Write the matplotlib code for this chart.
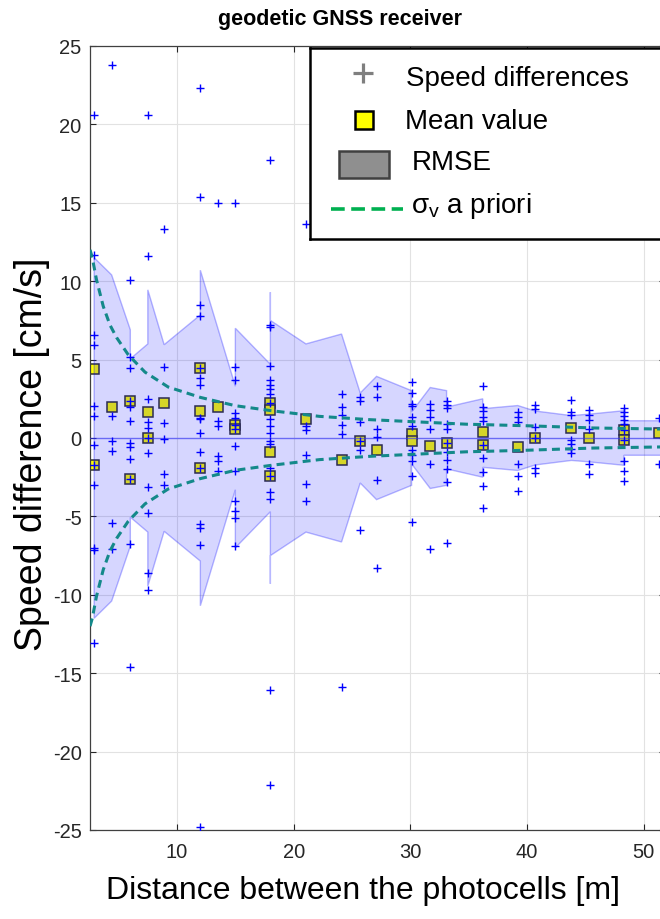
import matplotlib

matplotlib.use("Agg")
import matplotlib.pyplot as plt
import numpy as np
from matplotlib.patches import Rectangle

# ---- data ----
# distance columns (m) and the speed differences measured there (cm/s)
COLUMN_X = [2.9, 4.4, 6.0, 7.5, 8.9, 12.0, 13.5, 15.0, 18.0, 21.05, 24.1, 25.7,
            27.1, 30.1, 31.7, 33.1, 36.2, 39.2, 40.7, 43.8, 45.3, 48.3, 51.3]
COLUMN_VALUES = [
    [20.6, 11.7, 6.6, 5.9, 2.05, 1.4, -0.45, -1.72, -3.0, -7.0, -7.15, -13.1],
    [23.8, 1.42, -0.2, -0.8, -5.4, -7.1],
    [10.1, 5.15, 4.45, 2.38, 1.96, 1.1, -0.3, -0.6, -1.35, -2.6, -6.75, -14.6],
    [20.6, 11.6, 2.5, 1.05, 0.62, 0.0, -0.96, -3.1, -4.8, -8.6, -9.7],
    [13.3, 4.55, 0.94, -0.08, -2.3, -3.0],
    [22.3, 15.4, 8.5, 7.8, 4.45, 3.8, 3.35, 1.3, 1.2, 0.3, -0.87, -1.9, -5.5,
     -5.75, -6.8, -24.8],
    [15.0, 1.1, 0.78, -1.13, -1.45, -2.08],
    [15.0, 4.55, 3.7, 1.6, 1.3, 0.83, 0.55, -0.5, -2.1, -4.0, -4.65, -5.1, -6.9],
    [17.75, 7.2, 7.05, 4.6, 3.7, 3.4, 3.1, 2.8, 2.23, 1.2, 0.78, 0.32, -0.17,
     -0.4, -1.9, -2.4, -3.45, -3.9, -16.05, -22.1],
    [13.65, 0.78, 0.5, -1.1, -2.93, -4.0],
    [2.8, 2.0, 1.45, 0.85, 0.25, -15.9],
    [2.6, 2.38, 1.0, -0.17, -0.75, -5.85],
    [3.34, 2.6, 0.57, 0.04, -2.66, -8.3],
    [3.57, 2.86, 2.15, 2.02, 1.32, 0.77, -0.75, -1.1, -1.45, -2.4, -5.36],
    [2.15, 1.8, 1.32, 0.55, -1.66, -7.05],
    [2.38, 2.08, 1.9, 0.87, 0.6, -0.3, -0.9, -1.4, -1.95, -2.8, -6.7],
    [3.32, 2.0, 1.72, 1.37, 1.1, -0.43, -1.3, -2.2, -3.04, -4.46],
    [1.64, 1.32, 1.0, -1.66, -2.4, -3.36],
    [2.08, 1.82, 0.7, 0.0, -1.9, -2.23],
    [2.4, 1.68, 1.45, -0.1, -0.4, -0.68, -0.98],
    [1.76, 1.45, 1.15, 0.57, -1.68, -2.28],
    [1.92, 1.67, 1.4, 1.13, 0.87, 0.49, -0.15, -1.47, -2.13, -2.76],
    [1.3, -1.66],
]

MEAN_X = [2.9, 2.9, 4.4, 6.0, 6.0, 7.5, 7.5, 8.9, 12.0, 12.0, 12.0, 13.5, 15.0,
          15.0, 18.0, 18.0, 18.0, 18.0, 21.05, 24.1, 25.7, 27.1, 30.1, 30.1,
          31.7, 33.1, 36.2, 36.2, 39.2, 40.7, 43.8, 45.3, 48.3, 48.3, 51.3]
MEAN_Y = [4.4, -1.72, 1.96, 2.38, -2.6, 1.64, 0.0, 2.23, 4.44, 1.7, -1.9, 2.0,
          0.83, 0.55, 2.23, 1.8, -0.87, -2.4, 1.21, -1.4, -0.17, -0.74, 0.25,
          -0.17, -0.5, -0.3, 0.36, -0.43, -0.55, 0.02, 0.64, 0.02, 0.49, -0.15,
          0.3]

# RMSE envelope (drawn symmetric around zero), in plotting order
BAND_X = [2.9, 4.4, 6.0, 6.0, 7.5, 7.5, 8.9, 12.0, 12.0, 15.0, 15.0, 18.0, 18.0,
          18.0, 21.05, 24.1, 25.7, 27.1, 30.1, 30.1, 31.7, 33.1, 33.1, 36.2,
          36.2, 39.2, 40.7, 43.8, 45.3, 48.3, 48.3, 51.5]
BAND_RMSE = [11.5, 10.4, 6.9, 5.05, 6.0, 9.45, 5.95, 7.85, 10.7, 3.3, 7.0, 4.7,
             9.3, 7.5, 6.0, 6.63, 2.87, 3.93, 3.02, 1.65, 3.22, 3.02, 1.97, 2.5,
             1.87, 2.07, 1.72, 1.43, 1.52, 1.74, 1.1, 1.1]

# a priori sigma_v curve
SIGMA_X = [2.55, 2.74, 3.1, 3.68, 4.26, 4.83, 5.83, 7.26, 9.25, 12.0, 15.0,
           18.1, 22.2, 26.5, 30.25, 34.8, 40.0, 45.7, 51.5]
SIGMA_Y = [12.0, 11.5, 10.1, 8.4, 7.2, 6.4, 5.3, 4.2, 3.25, 2.59, 2.06, 1.74,
           1.38, 1.17, 1.04, 0.88, 0.78, 0.64, 0.57]

X_TICKS = [10, 20, 30, 40, 50]
Y_TICKS = [-25, -20, -15, -10, -5, 0, 5, 10, 15, 20, 25]

FIG_W, FIG_H = 660, 920
AX_LEFT, AX_RIGHT, AX_TOP, AX_BOTTOM = 90, 665, 47, 831

plt.rcParams.update({
    "font.family": ["Liberation Sans", "DejaVu Sans"],
    "axes.unicode_minus": False,
    "mathtext.default": "regular",
})

fig = plt.figure(figsize=(FIG_W / 100, FIG_H / 100), dpi=100)
ax = fig.add_axes([AX_LEFT / FIG_W, 1 - AX_BOTTOM / FIG_H,
                   (AX_RIGHT - AX_LEFT) / FIG_W, (AX_BOTTOM - AX_TOP) / FIG_H])

pts_x = np.concatenate([[x] * len(v) for x, v in zip(COLUMN_X, COLUMN_VALUES)])
pts_y = np.concatenate(COLUMN_VALUES)
band_x = np.array(BAND_X)
band_r = np.array(BAND_RMSE)
sig_x = np.array(SIGMA_X)
sig_y = np.array(SIGMA_Y)

ax.plot(MEAN_X, MEAN_Y, linestyle="none", marker="s", markersize=6.6,
        markerfacecolor="#ffff00", markeredgecolor="#333333",
        markeredgewidth=1.1, zorder=2)
ax.fill(np.concatenate([band_x, band_x[::-1]]),
        np.concatenate([band_r, -band_r[::-1]]),
        facecolor=(0, 0, 1, 0.16), edgecolor=(0, 0, 1, 0.28), linewidth=1.0,
        zorder=3)
ax.axhline(0, color=(0.2, 0.2, 1.0, 0.6), linewidth=1.0, zorder=3.5)
ax.plot(pts_x, pts_y, linestyle="none", marker="+", markersize=6.3,
        markeredgewidth=1.0, color="#0000ff", zorder=4)
for sign in (1, -1):
    ax.plot(sig_x, sign * sig_y, color="#14898a", linewidth=2.2,
            dashes=(2.6, 1.7), zorder=5)

ax.set_xlim(10 + (AX_LEFT - 177) / 11.67, 10 + (AX_RIGHT - 177) / 11.67)
ax.set_ylim(-25, 25)
ax.set_xticks(X_TICKS)
ax.set_yticks(Y_TICKS)
ax.grid(True, color="#e2e2e2", linewidth=0.8)
ax.set_axisbelow(True)
ax.tick_params(direction="in", length=4.5, width=0.8, color="#262626",
               labelcolor="#262626", labelsize=14.5, top=True, right=True)
ax.tick_params(axis="x", pad=9)
ax.tick_params(axis="y", pad=6)
for side in ("left", "bottom", "top", "right"):
    ax.spines[side].set_color("#404040")
    ax.spines[side].set_linewidth(0.9)

ax.set_xlabel("Distance between the photocells [m]", fontsize=23, va="center")
ax.xaxis.set_label_coords((363 - AX_LEFT) / (AX_RIGHT - AX_LEFT),
                          (AX_BOTTOM - 891) / (AX_BOTTOM - AX_TOP))
ax.set_ylabel("Speed difference [cm/s]", fontsize=27, va="center")
ax.yaxis.set_label_coords((32 - AX_LEFT) / (AX_RIGHT - AX_LEFT),
                          (AX_BOTTOM - 454) / (AX_BOTTOM - AX_TOP))
fig.text(340 / FIG_W, 1 - 19 / FIG_H, "geodetic GNSS receiver", fontsize=15.5,
         fontweight="bold", ha="center", va="center")

# legend box (drawn by hand, runs off the right edge like the original)
lg = fig.add_axes([310 / FIG_W, 1 - 240 / FIG_H, 360 / FIG_W, 191 / FIG_H],
                  zorder=10)
lg.set_xlim(310, 670)
lg.set_ylim(240, 49)
lg.set_xticks([])
lg.set_yticks([])
for side in lg.spines.values():
    side.set_color("black")
    side.set_linewidth(1.8)
lg.plot([363], [74], marker="+", markersize=14, markeredgewidth=2.3,
        color="#7f7f7f", linestyle="none")
lg.plot([364], [121], marker="s", markersize=13, markerfacecolor="#ffff00",
        markeredgecolor="black", markeredgewidth=1.8, linestyle="none")
lg.add_patch(Rectangle((339, 152), 50, 27, facecolor="#8f8f8f",
                       edgecolor="#404040", linewidth=1.8))
lg.plot([331, 403], [210, 210], color="#00b050", linewidth=2.6,
        dashes=(3.8, 1.8))
for ty, tx, label in ((79, 406, "Speed differences"), (122, 405, "Mean value"),
                      (163, 412, "RMSE"), (206, 411, r"$\sigma_v$ a priori")):
    lg.text(tx, ty, label, fontsize=20, va="center", ha="left")

fig.savefig("out.png", dpi=100, facecolor="white")
